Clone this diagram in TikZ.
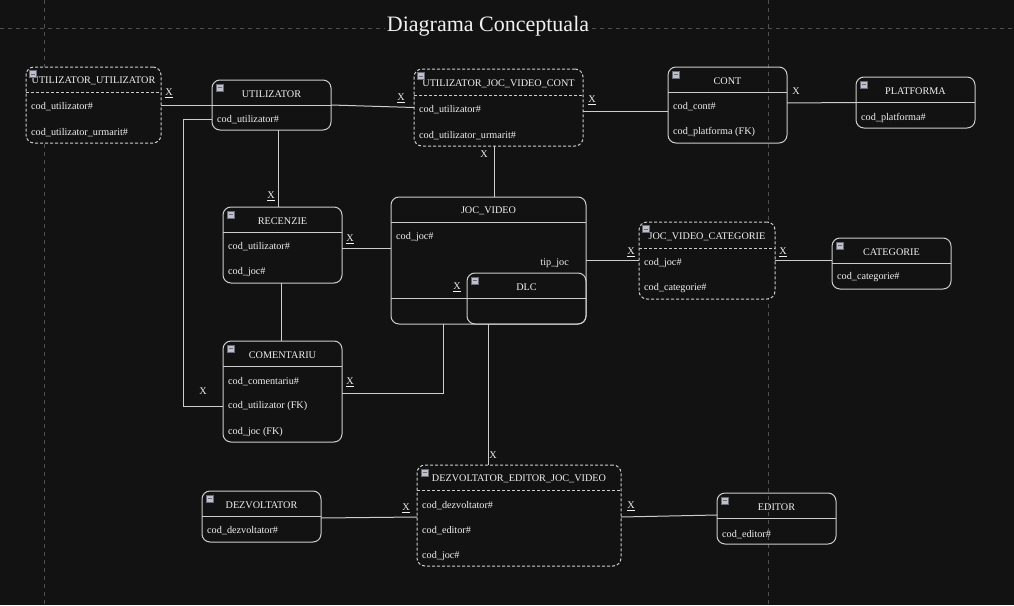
\documentclass[tikz,border=0pt]{standalone}
\usepackage{fontspec}
\setmainfont{Liberation Serif}
\usetikzlibrary{positioning}
\definecolor{bg}{RGB}{18,18,18}
\definecolor{boxline}{RGB}{205,205,205}
\definecolor{fg}{RGB}{240,240,240}
\definecolor{gridline}{RGB}{80,80,80}
\definecolor{iconfill}{RGB}{190,192,204}
\definecolor{icondash}{RGB}{105,108,120}
\tikzset{
  entity/.style={rectangle, draw=boxline, line width=1pt, rounded corners=8pt, inner sep=0pt, outer sep=0pt},
  assoc/.style={entity, dash pattern=on 3pt off 2pt, fill=bg},
  divider/.style={draw=boxline, line width=1pt},
  assocdivider/.style={divider, dash pattern=on 3pt off 2pt},
  etitle/.style={text=fg, font=\fontsize{10.2}{12}\selectfont, inner sep=0pt, yshift=-1.5pt},
  attr/.style={etitle, anchor=west},
  icon/.style={rectangle, minimum size=7pt, inner sep=0pt, fill=iconfill, draw=icondash, line width=0.4pt,
    path picture={\draw[icondash, line width=1pt] ([xshift=1.5pt]path picture bounding box.west) -- ([xshift=-1.5pt]path picture bounding box.east);}},
  link/.style={draw=boxline, line width=1pt},
  rel/.style={text=fg, font=\fontsize{10.2}{12}\selectfont, inner sep=1pt},
  grid/.style={draw=gridline, line width=0.8pt, dash pattern=on 4pt off 4pt},
  maintitle/.style={text=fg, font=\fontsize{22}{26}\selectfont, fill=bg, inner sep=2pt}
}
\begin{document}
\begin{tikzpicture}[x=1pt, y=-1pt]
  % Background and grid
  \fill[bg] (0,0) rectangle (1014,605);
  \useasboundingbox (0,0) rectangle (1014,605);
  \draw[grid] (0,28) -- (1014,28);
  \draw[grid] (44,0) -- (44,605);
  \draw[grid] (768,0) -- (768,605);
  \node[maintitle] (title) at (488,26) {Diagrama Conceptuala};

  % UTILIZATOR_UTILIZATOR
  \node[assoc, minimum width=135pt, minimum height=76pt] (uu) at (93.5,105) {};
  \draw[assocdivider] ([yshift=-25pt]uu.north west) -- ([yshift=-25pt]uu.north east);
  \node[etitle] (uu-t) at ([yshift=-12.5pt]uu.north) {UTILIZATOR\_UTILIZATOR};
  \node[attr] (uu-a) at ([xshift=5pt,yshift=-38pt]uu.north west) {cod\_utilizator\#};
  \node[attr] (uu-b) at ([xshift=5pt,yshift=-64pt]uu.north west) {cod\_utilizator\_urmarit\#};
  \node[icon] (uu-i) at ([xshift=7pt,yshift=-7pt]uu.north west) {};

  % UTILIZATOR
  \node[entity, minimum width=119pt, minimum height=50pt] (util) at (271.5,105) {};
  \draw[divider] ([yshift=-25pt]util.north west) -- ([yshift=-25pt]util.north east);
  \node[etitle] (util-t) at ([yshift=-12.5pt]util.north) {UTILIZATOR};
  \node[attr] (util-a) at ([xshift=5pt,yshift=-38pt]util.north west) {cod\_utilizator\#};
  \node[icon] (util-i) at ([xshift=7.5pt,yshift=-7.5pt]util.north west) {};

  % UTILIZATOR_JOC_VIDEO_CONT
  \node[assoc, minimum width=169pt, minimum height=77pt] (ujvc) at (498.5,107.5) {};
  \draw[assocdivider] ([yshift=-26pt]ujvc.north west) -- ([yshift=-26pt]ujvc.north east);
  \node[etitle] (ujvc-t) at ([yshift=-13pt]ujvc.north) {UTILIZATOR\_JOC\_VIDEO\_CONT};
  \node[attr] (ujvc-a) at ([xshift=5pt,yshift=-39pt]ujvc.north west) {cod\_utilizator\#};
  \node[attr] (ujvc-b) at ([xshift=5pt,yshift=-65pt]ujvc.north west) {cod\_utilizator\_urmarit\#};
  \node[icon] (ujvc-i) at ([xshift=7pt,yshift=-7pt]ujvc.north west) {};

  % CONT
  \node[entity, minimum width=119pt, minimum height=76pt] (cont) at (727.5,105) {};
  \draw[divider] ([yshift=-25pt]cont.north west) -- ([yshift=-25pt]cont.north east);
  \node[etitle] (cont-t) at ([yshift=-12.5pt]cont.north) {CONT};
  \node[attr] (cont-a) at ([xshift=5pt,yshift=-38pt]cont.north west) {cod\_cont\#};
  \node[attr] (cont-b) at ([xshift=5pt,yshift=-63pt]cont.north west) {cod\_platforma (FK)};
  \node[icon] (cont-i) at ([xshift=7.5pt,yshift=-7.5pt]cont.north west) {};

  % PLATFORMA
  \node[entity, minimum width=119pt, minimum height=51pt] (plat) at (915.5,102.5) {};
  \draw[divider] ([yshift=-25pt]plat.north west) -- ([yshift=-25pt]plat.north east);
  \node[etitle] (plat-t) at ([yshift=-12.5pt]plat.north) {PLATFORMA};
  \node[attr] (plat-a) at ([xshift=5pt,yshift=-39pt]plat.north west) {cod\_platforma\#};
  \node[icon] (plat-i) at ([xshift=7.5pt,yshift=-7.5pt]plat.north west) {};

  % RECENZIE
  \node[entity, minimum width=119pt, minimum height=76pt] (rec) at (282.5,245) {};
  \draw[divider] ([yshift=-25pt]rec.north west) -- ([yshift=-25pt]rec.north east);
  \node[etitle] (rec-t) at ([yshift=-12.5pt]rec.north) {RECENZIE};
  \node[attr] (rec-a) at ([xshift=5pt,yshift=-38pt]rec.north west) {cod\_utilizator\#};
  \node[attr] (rec-b) at ([xshift=5pt,yshift=-64pt]rec.north west) {cod\_joc\#};
  \node[icon] (rec-i) at ([xshift=7.5pt,yshift=-7.5pt]rec.north west) {};

  % JOC_VIDEO with DLC
  \node[entity, minimum width=195pt, minimum height=127pt] (jv) at (488.5,260.5) {};
  \draw[divider] ([yshift=-25pt]jv.north west) -- ([yshift=-25pt]jv.north east);
  \draw[divider] ([yshift=-101pt]jv.north west) -- ([yshift=-101pt]jv.north east);
  \node[etitle] (jv-t) at ([yshift=-12.5pt]jv.north) {JOC\_VIDEO};
  \node[attr] (jv-a) at ([xshift=5pt,yshift=-39pt]jv.north west) {cod\_joc\#};
  \node[etitle, anchor=east] (jv-b) at ([xshift=-17pt,yshift=-65pt]jv.north east) {tip\_joc};
  \node[entity, minimum width=119pt, minimum height=51pt] (dlc) at (526.5,298.5) {};
  \draw[divider] ([yshift=-25pt]dlc.north west) -- ([yshift=-25pt]dlc.north east);
  \node[etitle] (dlc-t) at ([yshift=-12.5pt]dlc.north) {DLC};
  \node[icon] (dlc-i) at ([xshift=7.5pt,yshift=-7.5pt]dlc.north west) {};

  % JOC_VIDEO_CATEGORIE
  \node[assoc, minimum width=136pt, minimum height=77pt] (jvc) at (707,260.5) {};
  \draw[assocdivider] ([yshift=-26pt]jvc.north west) -- ([yshift=-26pt]jvc.north east);
  \node[etitle] (jvc-t) at ([yshift=-13pt]jvc.north) {JOC\_VIDEO\_CATEGORIE};
  \node[attr] (jvc-a) at ([xshift=5pt,yshift=-40pt]jvc.north west) {cod\_joc\#};
  \node[attr] (jvc-b) at ([xshift=5pt,yshift=-65pt]jvc.north west) {cod\_categorie\#};
  \node[icon] (jvc-i) at ([xshift=7pt,yshift=-7pt]jvc.north west) {};

  % CATEGORIE
  \node[entity, minimum width=119pt, minimum height=51pt] (cat) at (891.5,263.5) {};
  \draw[divider] ([yshift=-25pt]cat.north west) -- ([yshift=-25pt]cat.north east);
  \node[etitle] (cat-t) at ([yshift=-12.5pt]cat.north) {CATEGORIE};
  \node[attr] (cat-a) at ([xshift=5pt,yshift=-38pt]cat.north west) {cod\_categorie\#};
  \node[icon] (cat-i) at ([xshift=7.5pt,yshift=-7.5pt]cat.north west) {};

  % COMENTARIU
  \node[entity, minimum width=119pt, minimum height=101pt] (com) at (282.5,391.5) {};
  \draw[divider] ([yshift=-25pt]com.north west) -- ([yshift=-25pt]com.north east);
  \node[etitle] (com-t) at ([yshift=-12.5pt]com.north) {COMENTARIU};
  \node[attr] (com-a) at ([xshift=5pt,yshift=-39pt]com.north west) {cod\_comentariu\#};
  \node[attr] (com-b) at ([xshift=5pt,yshift=-64pt]com.north west) {cod\_utilizator (FK)};
  \node[attr] (com-c) at ([xshift=5pt,yshift=-90pt]com.north west) {cod\_joc (FK)};
  \node[icon] (com-i) at ([xshift=7.5pt,yshift=-7.5pt]com.north west) {};

  % DEZVOLTATOR_EDITOR_JOC_VIDEO
  \node[assoc, minimum width=204pt, minimum height=101pt] (dej) at (519,515.5) {};
  \draw[assocdivider] ([yshift=-25pt]dej.north west) -- ([yshift=-25pt]dej.north east);
  \node[etitle] (dej-t) at ([yshift=-12.5pt]dej.north) {DEZVOLTATOR\_EDITOR\_JOC\_VIDEO};
  \node[attr] (dej-a) at ([xshift=5pt,yshift=-39pt]dej.north west) {cod\_dezvoltator\#};
  \node[attr] (dej-b) at ([xshift=5pt,yshift=-64pt]dej.north west) {cod\_editor\#};
  \node[attr] (dej-c) at ([xshift=5pt,yshift=-90pt]dej.north west) {cod\_joc\#};
  \node[icon] (dej-i) at ([xshift=7.5pt,yshift=-7.5pt]dej.north west) {};

  % DEZVOLTATOR
  \node[entity, minimum width=119pt, minimum height=51pt] (dez) at (261.5,516.5) {};
  \draw[divider] ([yshift=-25pt]dez.north west) -- ([yshift=-25pt]dez.north east);
  \node[etitle] (dez-t) at ([yshift=-12.5pt]dez.north) {DEZVOLTATOR};
  \node[attr] (dez-a) at ([xshift=5pt,yshift=-38pt]dez.north west) {cod\_dezvoltator\#};
  \node[icon] (dez-i) at ([xshift=7.5pt,yshift=-7.5pt]dez.north west) {};

  % EDITOR
  \node[entity, minimum width=119pt, minimum height=51pt] (edi) at (776.5,518.5) {};
  \draw[divider] ([yshift=-25pt]edi.north west) -- ([yshift=-25pt]edi.north east);
  \node[etitle] (edi-t) at ([yshift=-12.5pt]edi.north) {EDITOR};
  \node[attr] (edi-a) at ([xshift=5pt,yshift=-40pt]edi.north west) {cod\_editor\#};
  \node[icon] (edi-i) at ([xshift=7.5pt,yshift=-7.5pt]edi.north west) {};

  % Connections
  \draw[link] (uu.east) -- (util.west);
  \draw[link] (util.east) -- (ujvc.west);
  \draw[link] (util.west |- util-a) -| ([xshift=-40pt]com.west |- com-b) -- (com.west |- com-b);
  \draw[link] ([xshift=6.5pt]util.south) -- ([xshift=-4.5pt]rec.north);
  \draw[link] ([xshift=-4pt]ujvc.south) -- ([xshift=6pt]jv.north);
  \draw[link] ([yshift=-3.5pt]ujvc.east) -- ([yshift=-6pt]cont.west);
  \draw[link] ([yshift=2pt]cont.east) -- (plat.west);
  \draw[link] ([yshift=-3pt]rec.east) -- ([yshift=12.5pt]jv.west);
  \draw[link] ([xshift=-1.5pt]rec.south) -- ([xshift=-1.5pt]com.north);
  \draw[link] (jv.east) -- (jvc.west);
  \draw[link] (jvc.east) -- ([yshift=3pt]cat.west);
  \draw[link] ([yshift=-1.5pt]com.east) -| ([xshift=-45.5pt]jv.south);
  \draw[link] ([xshift=-38.5pt]dlc.south) -- ([xshift=-31pt]dej.north);
  \draw[link] ([yshift=-1.5pt]dez.east) -- ([yshift=-1.5pt]dej.west);
  \draw[link] ([yshift=-1.5pt]dej.east) -- ([yshift=3.5pt]edi.west);

  % Cardinality marks
  \node[rel] (x-uu) at (169,93) {\underline{X}};
  \node[rel] (x-ujvc-l) at (401,98) {\underline{X}};
  \node[rel] (x-ujvc-r) at (592,100) {\underline{X}};
  \node[rel] (x-ujvc-b) at (484,154) {X};
  \node[rel] (x-cont) at (796,91) {X};
  \node[rel] (x-rec-t) at (271,196) {\underline{X}};
  \node[rel] (x-rec-r) at (350,239) {\underline{X}};
  \node[rel] (x-dlc) at (457,287) {\underline{X}};
  \node[rel] (x-jvc-l) at (631,252) {\underline{X}};
  \node[rel] (x-jvc-r) at (783,252) {\underline{X}};
  \node[rel] (x-com-l) at (203,391) {X};
  \node[rel] (x-com-r) at (350,382) {\underline{X}};
  \node[rel] (x-dej-t) at (493,455) {X};
  \node[rel] (x-dej-l) at (406,508) {\underline{X}};
  \node[rel] (x-dej-r) at (631,506) {\underline{X}};
\end{tikzpicture}
\end{document}
